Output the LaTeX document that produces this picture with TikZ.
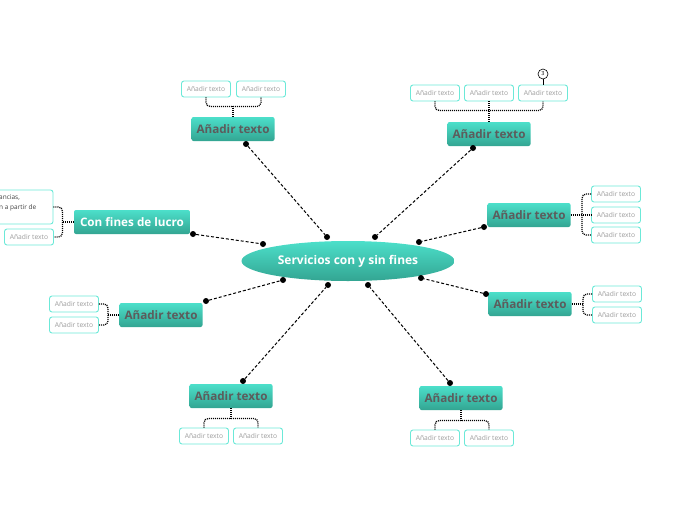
\documentclass[tikz,border=0pt]{standalone}
\usepackage{fontspec}
\setmainfont{Open Sans}
\usetikzlibrary{shapes.geometric, calc, positioning}
\definecolor{tealtop}{HTML}{4CDFCA}
\definecolor{tealbot}{HTML}{33A592}
\definecolor{leafline}{HTML}{6CE9D8}
\definecolor{leaftext}{HTML}{9C9C9C}
\definecolor{topictext}{HTML}{5C5C5C}
\tikzset{
	topic/.style={rounded corners=2pt, top color=tealtop, bottom color=tealbot,
		draw=none, minimum width=83pt, minimum height=24pt, inner sep=2pt,
		font=\fontsize{11.7}{13}\selectfont\bfseries, text=topictext},
	leaf/.style={draw=leafline, line width=0.9pt, rounded corners=2.5pt, fill=white,
		minimum width=49pt, minimum height=16pt, inner sep=1pt,
		font=\fontsize{6.7}{7}\selectfont, text=leaftext},
	link/.style={line width=1pt, dash pattern=on 3pt off 2pt},
	brace/.style={line width=1.3pt, dash pattern=on 1pt off 1pt, rounded corners=4pt},
	enddot/.style={circle, fill=black, inner sep=0pt, minimum size=6pt}
}
\begin{document}
\begin{tikzpicture}[x=1pt, y=-1pt]
      \useasboundingbox (0,0) rectangle (696,520);

      % central topic
      \node[ellipse, top color=tealtop, bottom color=tealbot, minimum width=213pt,
            minimum height=40pt, text=white, font=\fontsize{12}{14}\selectfont\bfseries]
            (main) at (348,261) {Servicios con y sin fines};

      % main branches
      \node[topic] (tl) at (233,129) {Añadir texto};
      \node[topic] (tr) at (489,134) {Añadir texto};
      \node[topic] (ru) at (529,215) {Añadir texto};
      \node[topic] (rd) at (530,304) {Añadir texto};
      \node[topic] (br) at (461,398) {Añadir texto};
      \node[topic] (bl) at (231,396) {Añadir texto};
      \node[topic] (ld) at (161,315) {Añadir texto};
      \node[topic, minimum width=116pt, text=white] (lu) at (132,222) {Con fines de lucro};

      % link end points
      \node[enddot] (tl-a) at (246,144) {};  \node[enddot] (tl-b) at (327,237) {};
      \node[enddot] (tr-a) at (473,148) {};  \node[enddot] (tr-b) at (375,237) {};
      \node[enddot] (ru-a) at (484,227) {};  \node[enddot] (ru-b) at (419,242) {};
      \node[enddot] (rd-a) at (486,294) {};  \node[enddot] (rd-b) at (421,278) {};
      \node[enddot] (br-a) at (450,383) {};  \node[enddot] (br-b) at (368,285) {};
      \node[enddot] (bl-a) at (243,381) {};  \node[enddot] (bl-b) at (328,285) {};
      \node[enddot] (ld-a) at (206,301) {};  \node[enddot] (ld-b) at (283,280) {};
      \node[enddot] (lu-a) at (193,234) {};  \node[enddot] (lu-b) at (263,244) {};

      \foreach \b in {tl,tr,ru,rd,br,bl,ld,lu} {
        \draw[link] (\b-a) -- (\b-b);
      }

      % leaves top left
      \node[leaf] (tl1) at (206,89) {Añadir texto};
      \node[leaf] (tl2) at (261,89) {Añadir texto};
      \draw[brace] (tl1.south) -- ++(0,9) -| (tl2.south);
      \draw[brace] (tl.north) -- ++(0,-11);

      % leaves top right
      \node[leaf] (tr1) at (435,93) {Añadir texto};
      \node[leaf] (tr2) at (489,93) {Añadir texto};
      \node[leaf] (tr3) at (543,93) {Añadir texto};
      \draw[brace] (tr1.south) -- ++(0,9) -| (tr3.south);
      \draw[brace] (tr.north) -- (tr2.south);
      \node[circle, draw, line width=0.6pt, inner sep=0pt, minimum size=10pt,
            font=\fontsize{5.5}{6}\selectfont] (count) at (543,74) {3};
      \draw[line width=0.8pt] (count) -- (tr3);

      % leaves right upper
      \node[leaf] (ru1) at (616,194) {Añadir texto};
      \node[leaf] (ru2) at (616,215) {Añadir texto};
      \node[leaf] (ru3) at (616,235) {Añadir texto};
      \draw[brace] (ru1.west) -- ++(-9,0) |- (ru3.west);
      \draw[brace] (ru.east) -- (ru2.west);

      % leaves right lower
      \node[leaf] (rd1) at (617,294) {Añadir texto};
      \node[leaf] (rd2) at (617,315) {Añadir texto};
      \draw[brace] (rd1.west) -- ++(-9,0) |- (rd2.west);
      \draw[brace] (rd.east) -- ++(11,0);

      % leaves bottom right
      \node[leaf] (br1) at (435,438) {Añadir texto};
      \node[leaf] (br2) at (489,438) {Añadir texto};
      \draw[brace] (br1.north) -- ++(0,-9) -| (br2.north);
      \draw[brace] (br.south) -- ++(0,11);

      % leaves bottom left
      \node[leaf] (bl1) at (204,436) {Añadir texto};
      \node[leaf] (bl2) at (258,436) {Añadir texto};
      \draw[brace] (bl1.north) -- ++(0,-9) -| (bl2.north);
      \draw[brace] (bl.south) -- ++(0,11);

      % leaves left lower
      \node[leaf] (ld1) at (74,304) {Añadir texto};
      \node[leaf] (ld2) at (74,325) {Añadir texto};
      \draw[brace] (ld1.east) -- ++(9,0) |- (ld2.east);
      \draw[brace] (ld.west) -- ++(-11,0);

      % leaves left upper (note cut off at the edge)
      \node[leaf, minimum width=120pt, minimum height=34pt] (note) at (-7,207) {};
      \node[anchor=north west, inner sep=0pt, align=left, text=black!75,
            font=\fontsize{6.5}{9.5}\selectfont] (notetext) at (-1,195) {ancias,\\n a partir de};
      \node[leaf] (lu1) at (29,237) {Añadir texto};
      \draw[brace] (note.east) -- ++(9,0) |- (lu1.east);
      \draw[brace] (lu.west) -- ++(-12,0);
\end{tikzpicture}
\end{document}
